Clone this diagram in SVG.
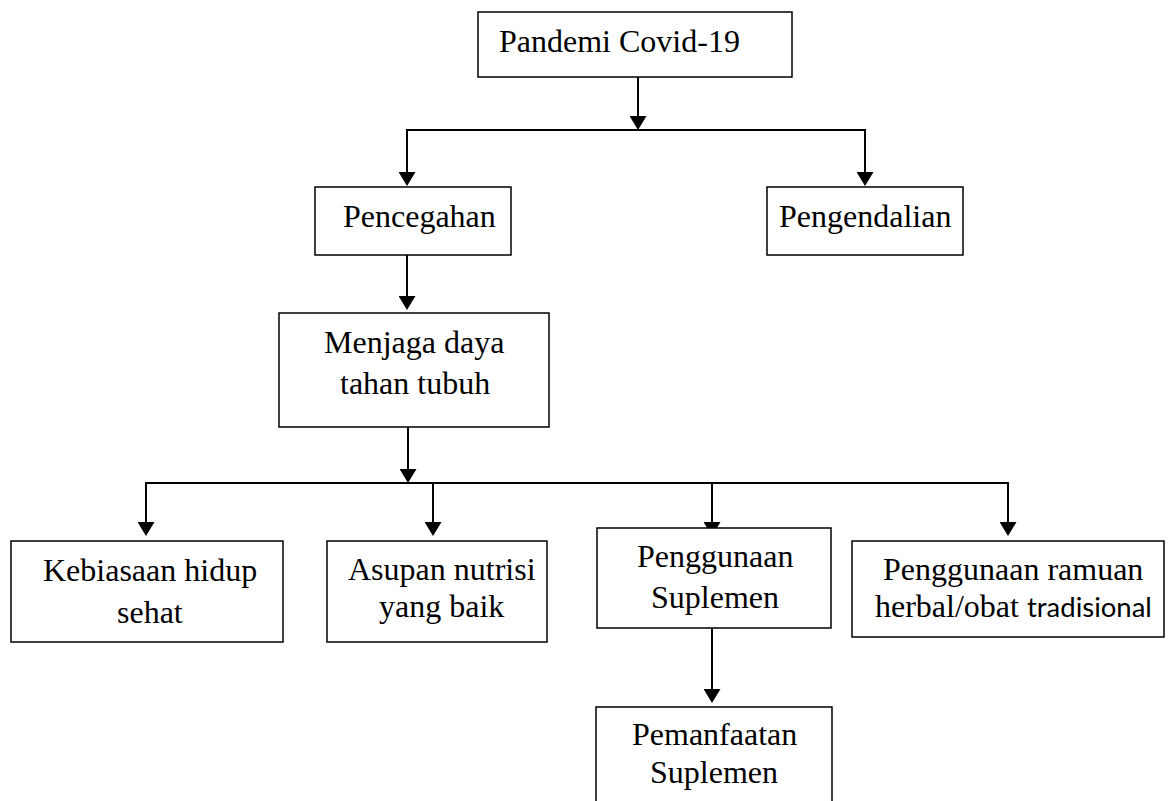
<svg xmlns="http://www.w3.org/2000/svg" width="1168" height="801" viewBox="0 0 1168 801">
  <style>
    .box { fill: #ffffff; stroke: #000000; stroke-width: 1.5; }
    .conn { fill: none; stroke: #000000; stroke-width: 2; }
    .t { font-family: "Liberation Serif", "Times New Roman", serif; font-size: 32px; fill: #000000; }
    .sans { font-family: Lato, "Liberation Sans", sans-serif; font-size: 27.5px; }
  </style>
  <defs>
    <marker id="arrow" viewBox="0 0 14 17" refX="11" refY="8.5" markerUnits="userSpaceOnUse" markerWidth="14" markerHeight="17" orient="auto">
      <path d="M0,0 L14,8.5 L0,17 z" fill="#000000"/>
    </marker>
  </defs>
  <rect width="1168" height="801" fill="#ffffff"/>

  <g id="connectors">
    <line class="conn" x1="638" y1="77" x2="638" y2="127" marker-end="url(#arrow)"/>
    <line class="conn" x1="406" y1="130" x2="866" y2="130"/>
    <line class="conn" x1="407" y1="129" x2="407" y2="183" marker-end="url(#arrow)"/>
    <line class="conn" x1="865" y1="129" x2="865" y2="183" marker-end="url(#arrow)"/>
    <line class="conn" x1="407" y1="255" x2="407" y2="307" marker-end="url(#arrow)"/>
    <line class="conn" x1="408" y1="427" x2="408" y2="480" marker-end="url(#arrow)"/>
    <line class="conn" x1="145" y1="483" x2="1009" y2="483"/>
    <line class="conn" x1="146" y1="482" x2="146" y2="533" marker-end="url(#arrow)"/>
    <line class="conn" x1="433" y1="483" x2="433" y2="533" marker-end="url(#arrow)"/>
    <line class="conn" x1="712" y1="483" x2="712" y2="533" marker-end="url(#arrow)"/>
    <line class="conn" x1="1008" y1="482" x2="1008" y2="533" marker-end="url(#arrow)"/>
    <line class="conn" x1="712" y1="628" x2="712" y2="700" marker-end="url(#arrow)"/>
  </g>

  <g id="node-pandemi">
    <rect class="box" x="478" y="12" width="314" height="65"/>
    <text class="t" x="499" y="52">Pandemi Covid-19</text>
  </g>
  <g id="node-pencegahan">
    <rect class="box" x="315" y="187" width="196" height="68"/>
    <text class="t" x="343" y="227">Pencegahan</text>
  </g>
  <g id="node-pengendalian">
    <rect class="box" x="767" y="187" width="196" height="68"/>
    <text class="t" x="779" y="227">Pengendalian</text>
  </g>
  <g id="node-menjaga">
    <rect class="box" x="279" y="313" width="270" height="114"/>
    <text class="t" x="324" y="353">Menjaga daya</text>
    <text class="t" x="340" y="394">tahan tubuh</text>
  </g>
  <g id="node-kebiasaan">
    <rect class="box" x="11" y="541" width="272" height="101"/>
    <text class="t" x="43" y="581">Kebiasaan hidup</text>
    <text class="t" x="117" y="623">sehat</text>
  </g>
  <g id="node-asupan">
    <rect class="box" x="327" y="541" width="220" height="101"/>
    <text class="t" x="348" y="580">Asupan nutrisi</text>
    <text class="t" x="379" y="617">yang baik</text>
  </g>
  <g id="node-penggunaan-suplemen">
    <rect class="box" x="597" y="528" width="234" height="100"/>
    <text class="t" x="637" y="567">Penggunaan</text>
    <text class="t" x="651" y="608">Suplemen</text>
  </g>
  <g id="node-herbal">
    <rect class="box" x="852" y="541" width="312" height="96"/>
    <text class="t" x="883" y="580">Penggunaan ramuan</text>
    <text class="t" x="875" y="617">herbal/obat <tspan class="sans">tradisional</tspan></text>
  </g>
  <g id="node-pemanfaatan">
    <path class="box" d="M596,802 L596,707 L832,707 L832,802"/>
    <text class="t" x="632" y="745">Pemanfaatan</text>
    <text class="t" x="650" y="783">Suplemen</text>
  </g>
</svg>
